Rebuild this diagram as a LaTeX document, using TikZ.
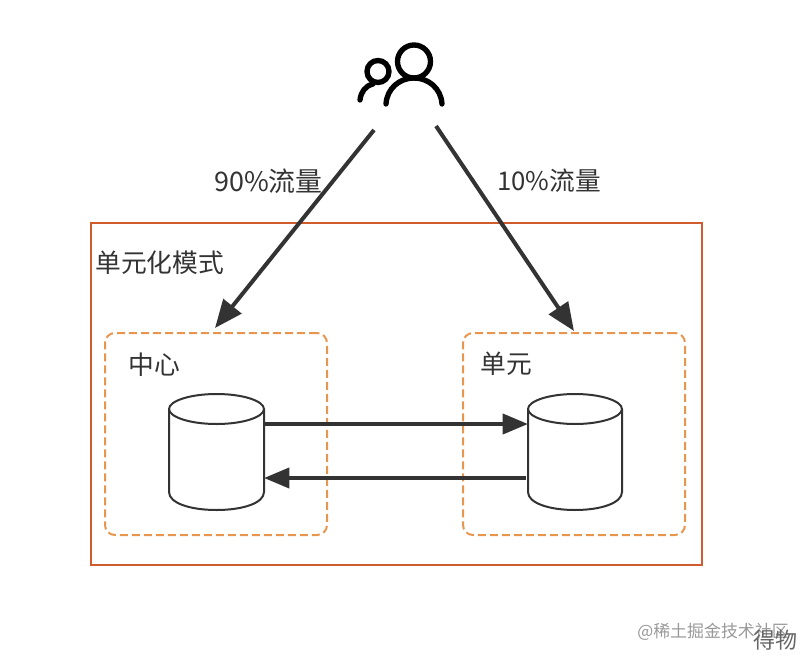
\documentclass[tikz,border=0pt]{standalone}
\usepackage{fontspec}
\setmainfont{Liberation Sans}
\newfontfamily\cjk{Noto Sans CJK SC}
\usetikzlibrary{arrows.meta}
\definecolor{ink}{HTML}{333333}
\definecolor{outerc}{HTML}{CF5B2E}
\definecolor{dashc}{HTML}{E8964E}
\tikzset{
  x=0.75pt,y=-0.75pt,
  lbl/.style={font=\cjk\fontsize{19.3}{19.3}\selectfont,text=ink,inner sep=0pt,anchor=west},
  flow/.style={draw=ink,line width=3pt,-{Triangle[length=19pt,width=15pt]}},
  bigflow/.style={draw=ink,line width=3pt,-{Triangle[length=21pt,width=17pt]}},
  group/.style={draw=dashc,line width=1.5pt,dash pattern=on 6pt off 3pt,rounded corners=7.5pt},
  cyl/.style={draw=ink,line width=1.5pt},
  icon/.style={draw=black,line width=4pt,line cap=round},
  box/.style={inner sep=0pt,outer sep=0pt,minimum width=0pt,minimum height=0pt}
}
\newcommand{\cylinderat}[2]{% left x, right x
  \draw[cyl,fill=white] (#1,409) .. controls (#1,401) and ({#1+21},394) .. ({(#1+#2)/2},394)
    .. controls ({#2-21},394) and (#2,401) .. (#2,409)
    -- (#2,492) .. controls (#2,503) and ({#2-21},510) .. ({(#1+#2)/2},510)
    .. controls ({#1+21},510) and (#1,503) .. (#1,492) -- cycle;
  \draw[cyl] (#1,409) .. controls (#1,417) and ({#1+21},424) .. ({(#1+#2)/2},424)
    .. controls ({#2-21},424) and (#2,417) .. (#2,409);
}
\begin{document}
\begin{tikzpicture}
\useasboundingbox (0,0) rectangle (806,660);
% outer frame and groups
\node[box,draw=outerc,line width=1.5pt,minimum width=458.25pt,minimum height=256.5pt,anchor=north west] (outer) at (91,223) {};
\node[box,group,minimum width=166.5pt,minimum height=151.5pt,anchor=north west] (center) at (105,333) {};
\node[box,group,minimum width=166.5pt,minimum height=151.5pt,anchor=north west] (unit) at (463,333) {};
% labels
\node[lbl] (outerlabel) at (95,263) {单元化模式};
\node[lbl] (centerlabel) at (128,365) {中心};
\node[lbl] (unitlabel) at (480,364) {单元};
\node[lbl,font=\cjk\fontsize{20.2}{20.2}\selectfont] (l90) at (214,181) {90\%流量};
\node[lbl] (l10) at (497,181) {10\%流量};
% cylinders
\cylinderat{169}{264}
\cylinderat{528}{622}
% users icon
\draw[icon] (414,61.5) circle (16.5);
\draw[icon] (386,104) .. controls (387,88) and (400,78) .. (414,78) .. controls (428,78) and (441,88) .. (442,104);
\draw[icon] (378,71.5) circle (11);
\draw[icon] (360,100) .. controls (361,92) and (365,86) .. (373,84);
% connector ends
\coordinate (userL) at (374,130);
\coordinate (userR) at (436,126);
\coordinate (centerIn) at (215,328);
\coordinate (unitIn) at (574,331);
\coordinate (cylLtop) at (264,424);
\coordinate (cylRtop) at (528,424);
\coordinate (cylRbot) at (526,478);
\coordinate (cylLbot) at (264,478);
\draw[bigflow] (userL) -- (centerIn);
\draw[bigflow] (userR) -- (unitIn);
\draw[flow] (cylLtop) -- (cylRtop);
\draw[flow] (cylRbot) -- (cylLbot);
% watermark
\node[inner sep=0pt,anchor=west,text=black!40,font=\cjk\fontsize{12.7}{12.7}\selectfont] (wm) at (637,632) {@稀土掘金技术社区};
\node[inner sep=0pt,anchor=west,text=black!60,font=\cjk\fontsize{16.5}{16.5}\selectfont] (wm2) at (753,640) {得物};
\end{tikzpicture}
\end{document}
